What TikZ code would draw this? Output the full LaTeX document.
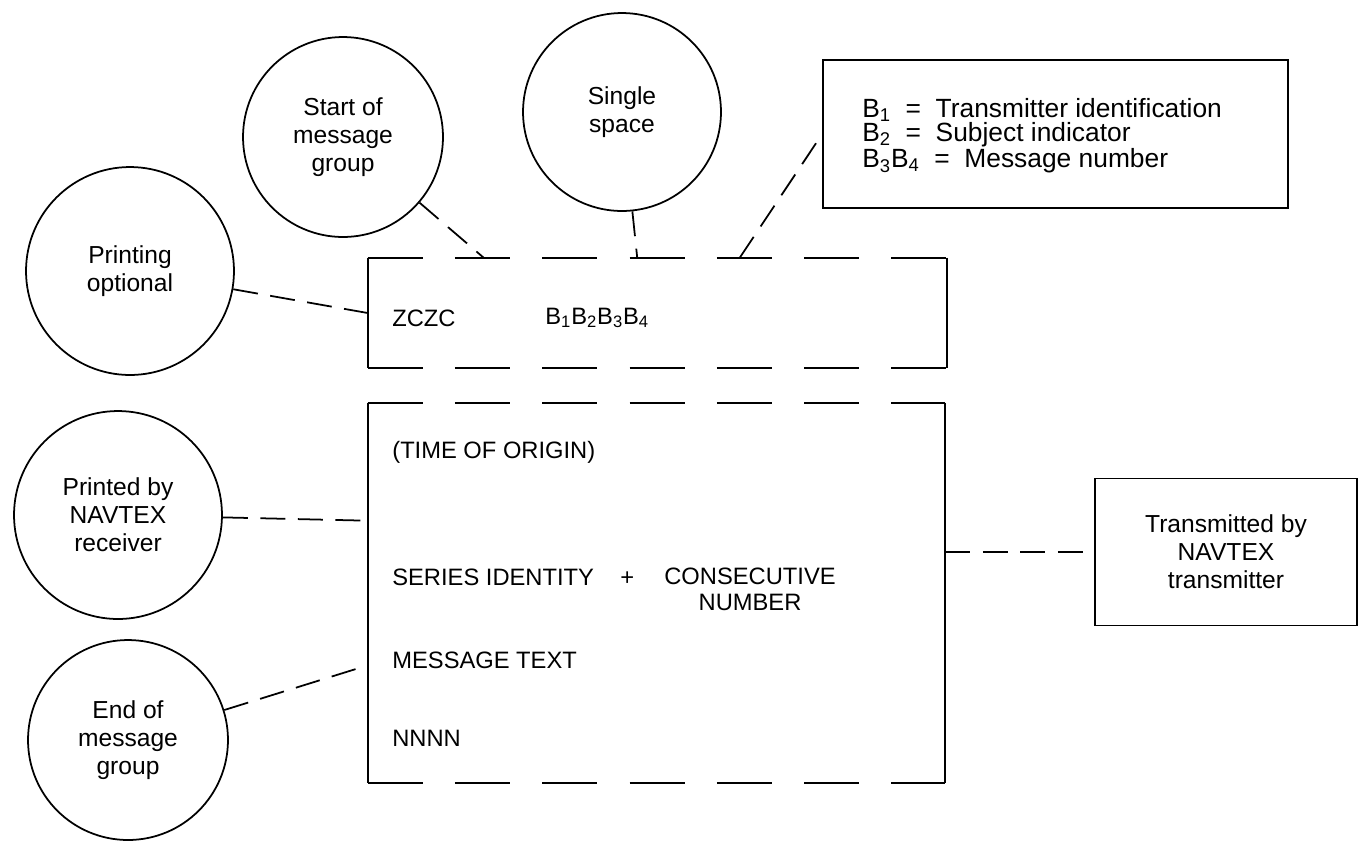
\documentclass[tikz,border=0pt]{standalone}
\usepackage{fontspec}
\setmainfont{Liberation Sans}
\usetikzlibrary{calc}

\begin{document}
\begin{tikzpicture}[x=0.02cm,y=-0.02cm,
  bubble/.style={draw,circle,line width=1pt,align=center,inner sep=0pt,font=\fontsize{14}{16}\selectfont},
  tagbox/.style={draw,line width=1pt,align=center,font=\fontsize{14}{16}\selectfont},
  txt/.style={anchor=west,inner sep=0pt,font=\fontsize{13.5}{14.5}\selectfont},
  link/.style={line width=1pt,dash pattern=on 0.5cm off 0.25cm},
  rim/.style={line width=1pt,dash pattern=on 1.1cm off 0.646cm}]
\useasboundingbox (0,0) rectangle (1359,843);
% circles
\node[bubble,minimum size=4.16cm] (prtopt) at (130,271) {Printing\\optional};
\node[bubble,minimum size=4cm] (startgrp) at (343,137) {Start of\\message\\group};
\node[bubble,minimum size=3.96cm] (space) at (622,112) {Single\\space};
\node[bubble,minimum size=4.16cm] (prtrx) at (118,515) {Printed by\\NAVTEX\\receiver};
\node[bubble,minimum size=4cm] (endgrp) at (128,740) {End of\\message\\group};
% header and message boxes
\node[minimum width=11.58cm,minimum height=2.2cm] (hdr) at (657.5,313) {};
\node[minimum width=11.54cm,minimum height=7.6cm] (msg) at (656.5,593) {};
\foreach \b in {hdr,msg}{
  \draw[line width=1pt] (\b.north west) -- (\b.south west);
  \draw[line width=1pt] (\b.north east) -- (\b.south east);
  \draw[rim] (\b.north west) -- (\b.north east);
  \draw[rim] (\b.south west) -- (\b.south east);
}
\node[txt] (zczc) at (392,318) {ZCZC};
\node[txt] (bbbb) at (545,318) {B\textsubscript{1}B\textsubscript{2}B\textsubscript{3}B\textsubscript{4}};
\node[txt] (origin) at (392,452) {(TIME OF ORIGIN)};
\node[txt] (series) at (392,577) {SERIES IDENTITY\ \ \ \ +};
\node[txt,anchor=north west,align=center] (consec) at (664,568) {CONSECUTIVE\\NUMBER};
\node[txt] (mtext) at (392,660) {MESSAGE TEXT};
\node[txt] (nnnn) at (392,738) {NNNN};
% legend and transmitter
\node[tagbox,minimum width=9.3cm,minimum height=2.96cm] (key) at (1055.5,134) {};
\node[txt,align=left,font=\fontsize{15}{13.5}\selectfont] (keytxt) at (862,136)
  {B\textsubscript{1}\ \ =\ \ Transmitter identification\\
   B\textsubscript{2}\ \ =\ \ Subject indicator\\
   B\textsubscript{3}B\textsubscript{4}\ \ =\ \ Message number};
\node[tagbox,minimum width=5.24cm,minimum height=2.94cm] (tx) at (1226,552) {Transmitted by\\NAVTEX\\transmitter};
% connectors
\draw[link] (prtopt) -- (hdr.west);
\draw[link] (startgrp) -- ($(hdr.north west)!0.2!(hdr.north east)$);
\draw[link] (space) -- ($(hdr.north west)!0.465!(hdr.north east)$);
\draw[link] ($(hdr.north west)!0.642!(hdr.north east)$) -- (key.west);
\draw[link] (prtrx) -- ($(msg.north west)!0.31!(msg.south west)$);
\draw[link] (endgrp) -- ($(msg.north west)!0.69!(msg.south west)$);
\draw[link] (msg.east |- tx.west) -- (tx.west);
\end{tikzpicture}
\end{document}
